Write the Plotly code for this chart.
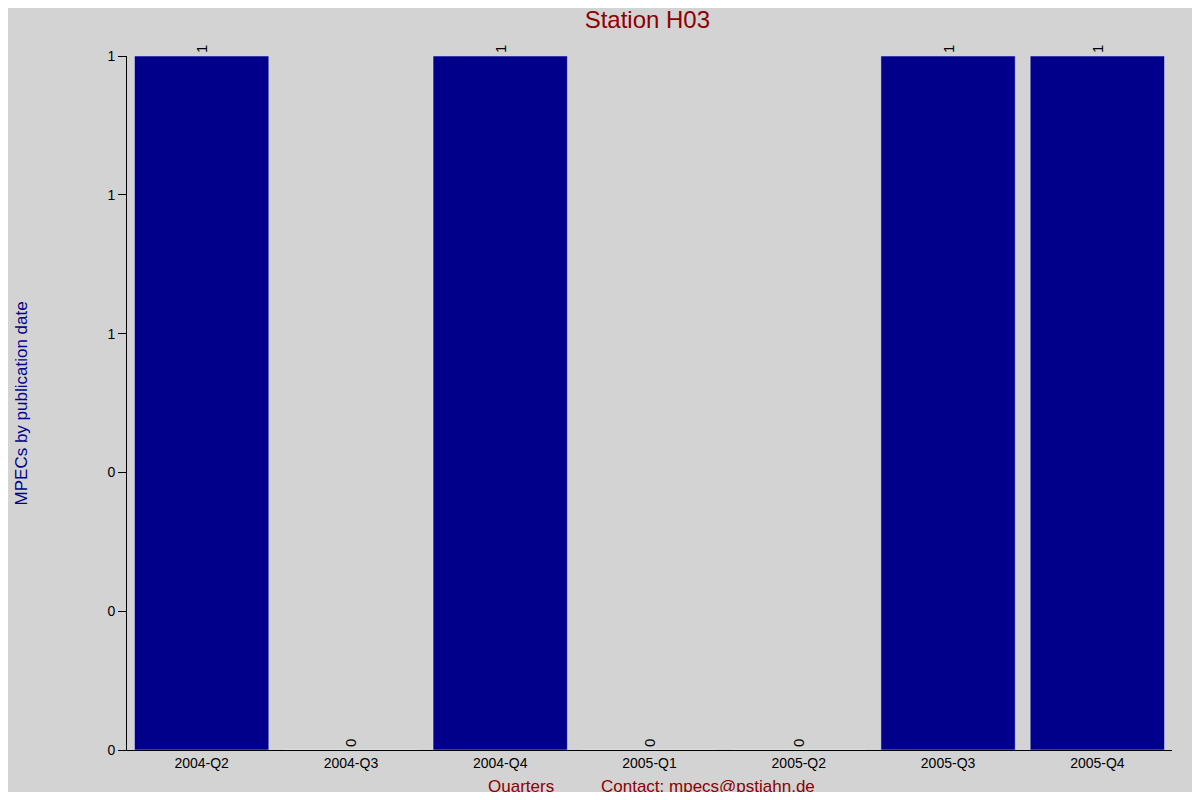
import plotly.graph_objects as go

quarters = ["2004-Q2", "2004-Q3", "2004-Q4", "2005-Q1", "2005-Q2", "2005-Q3", "2005-Q4"]
counts = [1, 0, 1, 0, 0, 1, 1]
tick_vals = [0, 0.2, 0.4, 0.6, 0.8, 1.0]
tick_text = ["0", "0", "0", "1", "1", "1"]

fig = go.Figure(go.Bar(
    x=quarters, y=counts,
    marker_color="#00008b",
    text=[str(c) for c in counts],
    textposition="outside",
    textangle=-90,
    textfont=dict(color="black", size=15),
    cliponaxis=False,
))

fig.update_layout(
    width=1184, height=784,
    paper_bgcolor="#d3d3d3", plot_bgcolor="#d3d3d3",
    font=dict(family="Liberation Sans, Arial", size=14, color="black"),
    margin=dict(l=119, r=20, t=48, b=42),
    bargap=0.1,
    showlegend=False,
    title=dict(text="Station H03", x=0.54, y=0.985, xanchor="center", yanchor="middle",
               font=dict(size=24, color="#8b0000")),
)
fig.update_xaxes(showgrid=False, showline=True, linecolor="black",
                 ticks="", tickfont=dict(size=14))
fig.update_yaxes(range=[0, 1], tickvals=tick_vals, ticktext=tick_text,
                 showgrid=False, showline=True, linecolor="black",
                 ticks="outside", ticklen=8, tickcolor="black",
                 tickfont=dict(size=14), zeroline=False)

fig.add_annotation(text="MPECs by publication date", textangle=-90,
                   xref="paper", yref="paper", x=-0.112, y=0.5, showarrow=False,
                   font=dict(size=17, color="#00008b"))
fig.add_annotation(text="Quarters", xref="paper", yref="paper", x=0.377, y=-0.052,
                   showarrow=False, yanchor="middle", font=dict(size=17, color="#8b0000"))
fig.add_annotation(text="Contact: mpecs@pstjahn.de", xref="paper", yref="paper",
                   x=0.556, y=-0.052, showarrow=False, yanchor="middle",
                   font=dict(size=17, color="#8b0000"))

fig.write_html("out.html")
